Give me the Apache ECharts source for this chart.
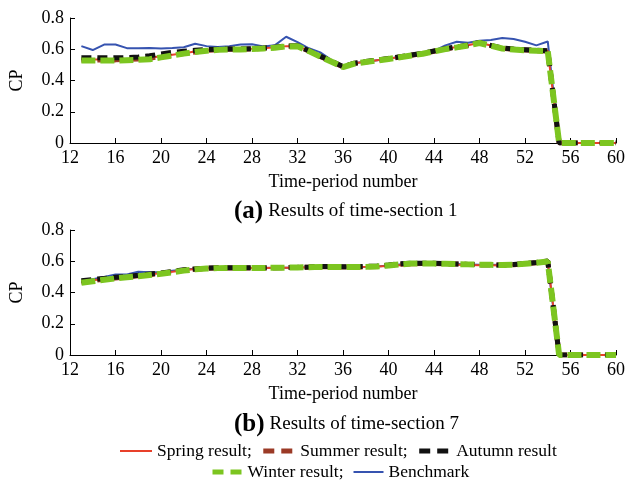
<!DOCTYPE html>
<html>
<head>
<meta charset="utf-8">
<script src="https://cdn.jsdelivr.net/npm/echarts@6/dist/echarts.min.js"></script>
<style>
  html, body { margin: 0; padding: 0; background: #fff; }
  #chart { width: 628px; height: 480px; }
</style>
</head>
<body>
<div id="chart"></div>
<script>
// time periods 13..60
const periods = [13, 14, 15, 16, 17, 18, 19, 20, 21, 22, 23, 24, 25, 26, 27, 28, 29, 30, 31, 32, 33, 34, 35, 36,
  37, 38, 39, 40, 41, 42, 43, 44, 45, 46, 47, 48, 49, 50, 51, 52, 53, 54, 55, 56, 57, 58, 59, 60]
const yTicks = [0, 0.2, 0.4, 0.6, 0.8]

// (a) time-section 1
const springA = [0.535, 0.535, 0.535, 0.535, 0.537, 0.54, 0.545, 0.555, 0.565, 0.575, 0.585, 0.593, 0.598, 0.6, 0.6, 0.603, 0.607, 0.612, 0.62, 0.62, 0.59, 0.555, 0.522, 0.488,
  0.51, 0.52, 0.53, 0.54, 0.551, 0.562, 0.573, 0.588, 0.603, 0.614, 0.626, 0.642, 0.624, 0.607, 0.6, 0.596, 0.592, 0.59, 0, 0, 0, 0, 0, 0]
const summerA = [0.532, 0.532, 0.532, 0.532, 0.535, 0.538, 0.543, 0.553, 0.563, 0.573, 0.583, 0.592, 0.597, 0.6, 0.6, 0.602, 0.606, 0.611, 0.619, 0.62, 0.589, 0.554, 0.521, 0.487,
  0.509, 0.519, 0.529, 0.539, 0.55, 0.561, 0.572, 0.587, 0.602, 0.613, 0.625, 0.641, 0.623, 0.606, 0.599, 0.595, 0.591, 0.589, 0, 0, 0, 0, 0, 0]
const autumnA = [0.545, 0.545, 0.545, 0.545, 0.547, 0.55, 0.558, 0.57, 0.58, 0.587, 0.593, 0.598, 0.6, 0.602, 0.602, 0.604, 0.608, 0.613, 0.621, 0.622, 0.59, 0.556, 0.523, 0.489,
  0.511, 0.521, 0.531, 0.541, 0.552, 0.563, 0.574, 0.589, 0.604, 0.615, 0.627, 0.643, 0.625, 0.608, 0.601, 0.597, 0.593, 0.591, 0, 0, 0, 0, 0, 0]
const winterA = [0.528, 0.528, 0.528, 0.528, 0.53, 0.532, 0.536, 0.548, 0.56, 0.572, 0.582, 0.59, 0.596, 0.598, 0.599, 0.601, 0.605, 0.61, 0.618, 0.619, 0.588, 0.553, 0.52, 0.486,
  0.508, 0.518, 0.528, 0.538, 0.549, 0.56, 0.571, 0.586, 0.601, 0.612, 0.624, 0.64, 0.622, 0.605, 0.598, 0.594, 0.59, 0.588, 0, 0, 0, 0, 0, 0]
const benchA = [0.62, 0.595, 0.63, 0.63, 0.607, 0.607, 0.608, 0.605, 0.608, 0.613, 0.635, 0.62, 0.615, 0.62, 0.63, 0.632, 0.618, 0.625, 0.68, 0.645, 0.606, 0.58, 0.53, 0.49,
  0.512, 0.52, 0.53, 0.54, 0.552, 0.563, 0.574, 0.59, 0.625, 0.648, 0.642, 0.655, 0.659, 0.672, 0.665, 0.648, 0.625, 0.65, 0, 0, 0, 0, 0, 0]

// (b) time-section 7
const springB = [0.468, 0.478, 0.487, 0.495, 0.502, 0.509, 0.516, 0.523, 0.533, 0.543, 0.55, 0.555, 0.558, 0.558, 0.558, 0.557, 0.557, 0.558, 0.559, 0.56, 0.562, 0.565, 0.565, 0.563,
  0.563, 0.564, 0.566, 0.57, 0.574, 0.575, 0.576, 0.577, 0.577, 0.577, 0.576, 0.575, 0.574, 0.573, 0.576, 0.583, 0.59, 0.6, 0, 0, 0, 0, 0, 0]
const summerB = [0.466, 0.476, 0.485, 0.493, 0.5, 0.507, 0.514, 0.522, 0.532, 0.542, 0.549, 0.554, 0.557, 0.557, 0.557, 0.557, 0.557, 0.558, 0.559, 0.56, 0.562, 0.565, 0.565, 0.563,
  0.563, 0.564, 0.566, 0.573, 0.58, 0.585, 0.586, 0.585, 0.584, 0.582, 0.58, 0.578, 0.577, 0.576, 0.578, 0.584, 0.59, 0.6, 0, 0, 0, 0, 0, 0]
const autumnB = [0.475, 0.483, 0.49, 0.497, 0.503, 0.51, 0.518, 0.525, 0.535, 0.545, 0.551, 0.556, 0.559, 0.559, 0.559, 0.558, 0.558, 0.559, 0.56, 0.561, 0.563, 0.566, 0.566, 0.565,
  0.566, 0.567, 0.569, 0.576, 0.584, 0.588, 0.588, 0.587, 0.585, 0.583, 0.58, 0.578, 0.577, 0.576, 0.579, 0.585, 0.592, 0.602, 0, 0, 0, 0, 0, 0]
const winterB = [0.462, 0.472, 0.481, 0.49, 0.497, 0.504, 0.512, 0.52, 0.53, 0.54, 0.548, 0.553, 0.556, 0.557, 0.557, 0.557, 0.557, 0.558, 0.559, 0.56, 0.562, 0.564, 0.564, 0.563,
  0.563, 0.564, 0.566, 0.573, 0.58, 0.585, 0.586, 0.585, 0.584, 0.582, 0.58, 0.578, 0.577, 0.576, 0.578, 0.584, 0.59, 0.598, 0, 0, 0, 0, 0, 0]
const benchB = [0.47, 0.485, 0.5, 0.515, 0.515, 0.533, 0.53, 0.53, 0.54, 0.547, 0.552, 0.556, 0.558, 0.558, 0.558, 0.557, 0.557, 0.558, 0.559, 0.56, 0.562, 0.565, 0.565, 0.563,
  0.563, 0.564, 0.566, 0.573, 0.58, 0.585, 0.586, 0.585, 0.584, 0.582, 0.58, 0.578, 0.577, 0.576, 0.578, 0.583, 0.588, 0.585, 0, 0, 0, 0, 0, 0]

const FONT = 'Liberation Serif'
const pairs = (vals) => periods.map((p, i) => [p, vals[i]])

const styles = {
  'Spring result': { color: '#e8402a', width: 2, type: 'solid', z: 3 },
  'Summer result': { color: '#9b3a26', width: 5, type: [10, 6], z: 4 },
  'Autumn result': { color: '#111111', width: 5, type: [10, 6], z: 5 },
  'Winter result': { color: '#7cc520', width: 6, type: [14, 5], z: 6 },
  'Benchmark': { color: '#3653b0', width: 2, type: 'solid', z: 2 }
}

function makeSeries(name, vals, idx) {
  const s = styles[name]
  return {
    name: name,
    type: 'line',
    xAxisIndex: idx,
    yAxisIndex: idx,
    symbol: 'none',
    z: s.z,
    animation: false,
    lineStyle: { color: s.color, width: s.width, type: s.type, cap: 'butt' },
    itemStyle: { color: s.color },
    data: pairs(vals)
  }
}

// legend entry: thick two-dash icon for the dashed series
function legendItem(name) {
  const s = styles[name]
  const dashed = s.type !== 'solid'
  return {
    name: name,
    lineStyle: { width: dashed ? 5 : 2, type: dashed ? [11, 7] : 'solid' }
  }
}

function xAxisOf(idx) {
  return {
    gridIndex: idx,
    type: 'value',
    min: 12,
    max: 60,
    interval: 4,
    name: 'Time-period number',
    nameLocation: 'middle',
    nameGap: 30,
    nameTextStyle: { fontFamily: FONT, fontSize: 18, color: '#000' },
    axisLine: { lineStyle: { color: '#000', width: 1 } },
    axisTick: { inside: true, length: 5, lineStyle: { color: '#000' } },
    axisLabel: { fontFamily: FONT, fontSize: 18, color: '#000', margin: 6 },
    splitLine: { show: false }
  }
}

function yAxisOf(idx) {
  return {
    gridIndex: idx,
    type: 'value',
    min: yTicks[0],
    max: yTicks[yTicks.length - 1],
    interval: 0.2,
    name: 'CP',
    nameLocation: 'middle',
    nameGap: 44,
    nameTextStyle: { fontFamily: FONT, fontSize: 18, color: '#000' },
    axisLine: { show: true, lineStyle: { color: '#000', width: 1 } },
    axisTick: { show: true, inside: true, length: 5, lineStyle: { color: '#000' } },
    axisLabel: { fontFamily: FONT, fontSize: 18, color: '#000', margin: 6 },
    splitLine: { show: false }
  }
}

const chart = echarts.init(document.getElementById('chart'), null, { renderer: 'canvas' })

const captionRich = {
  b: { fontFamily: FONT, fontSize: 25, fontWeight: 'bold', color: '#000' },
  n: { fontFamily: FONT, fontSize: 19, fontWeight: 'normal', color: '#000' }
}

const legendText = { fontFamily: FONT, fontSize: 17.5, color: '#000' }

const option = {
  backgroundColor: '#fff',
  animation: false,
  title: [
    { text: '{b|(a)} {n|Results of time-section 1}', left: 229, top: 194, textStyle: { fontWeight: 'normal', rich: captionRich } },
    { text: '{b|(b)} {n|Results of time-section 7}', left: 229, top: 407, textStyle: { fontWeight: 'normal', rich: captionRich } }
  ],
  legend: [
    {
      left: 114, top: 437, itemGap: 9, itemWidth: 32, itemHeight: 14,
      itemStyle: { opacity: 0 },
      data: ['Spring result', 'Summer result', 'Autumn result'].map(legendItem),
      formatter: (n) => n === 'Autumn result' ? n : n + ';',
      textStyle: legendText
    },
    {
      left: 205, top: 458, itemGap: 9, itemWidth: 30, itemHeight: 14,
      itemStyle: { opacity: 0 },
      data: ['Winter result', 'Benchmark'].map(legendItem),
      formatter: (n) => n === 'Benchmark' ? n : n + ';',
      textStyle: legendText
    }
  ],
  grid: [
    { left: 60, right: 11, top: 18, height: 125 },
    { left: 60, right: 11, top: 230, height: 125 }
  ],
  xAxis: [xAxisOf(0), xAxisOf(1)],
  yAxis: [yAxisOf(0), yAxisOf(1)],
  series: [
    makeSeries('Benchmark', benchA, 0),
    makeSeries('Spring result', springA, 0),
    makeSeries('Summer result', summerA, 0),
    makeSeries('Autumn result', autumnA, 0),
    makeSeries('Winter result', winterA, 0),
    makeSeries('Benchmark', benchB, 1),
    makeSeries('Spring result', springB, 1),
    makeSeries('Summer result', summerB, 1),
    makeSeries('Autumn result', autumnB, 1),
    makeSeries('Winter result', winterB, 1)
  ]
}

chart.setOption(option)
</script>
</body>
</html>
